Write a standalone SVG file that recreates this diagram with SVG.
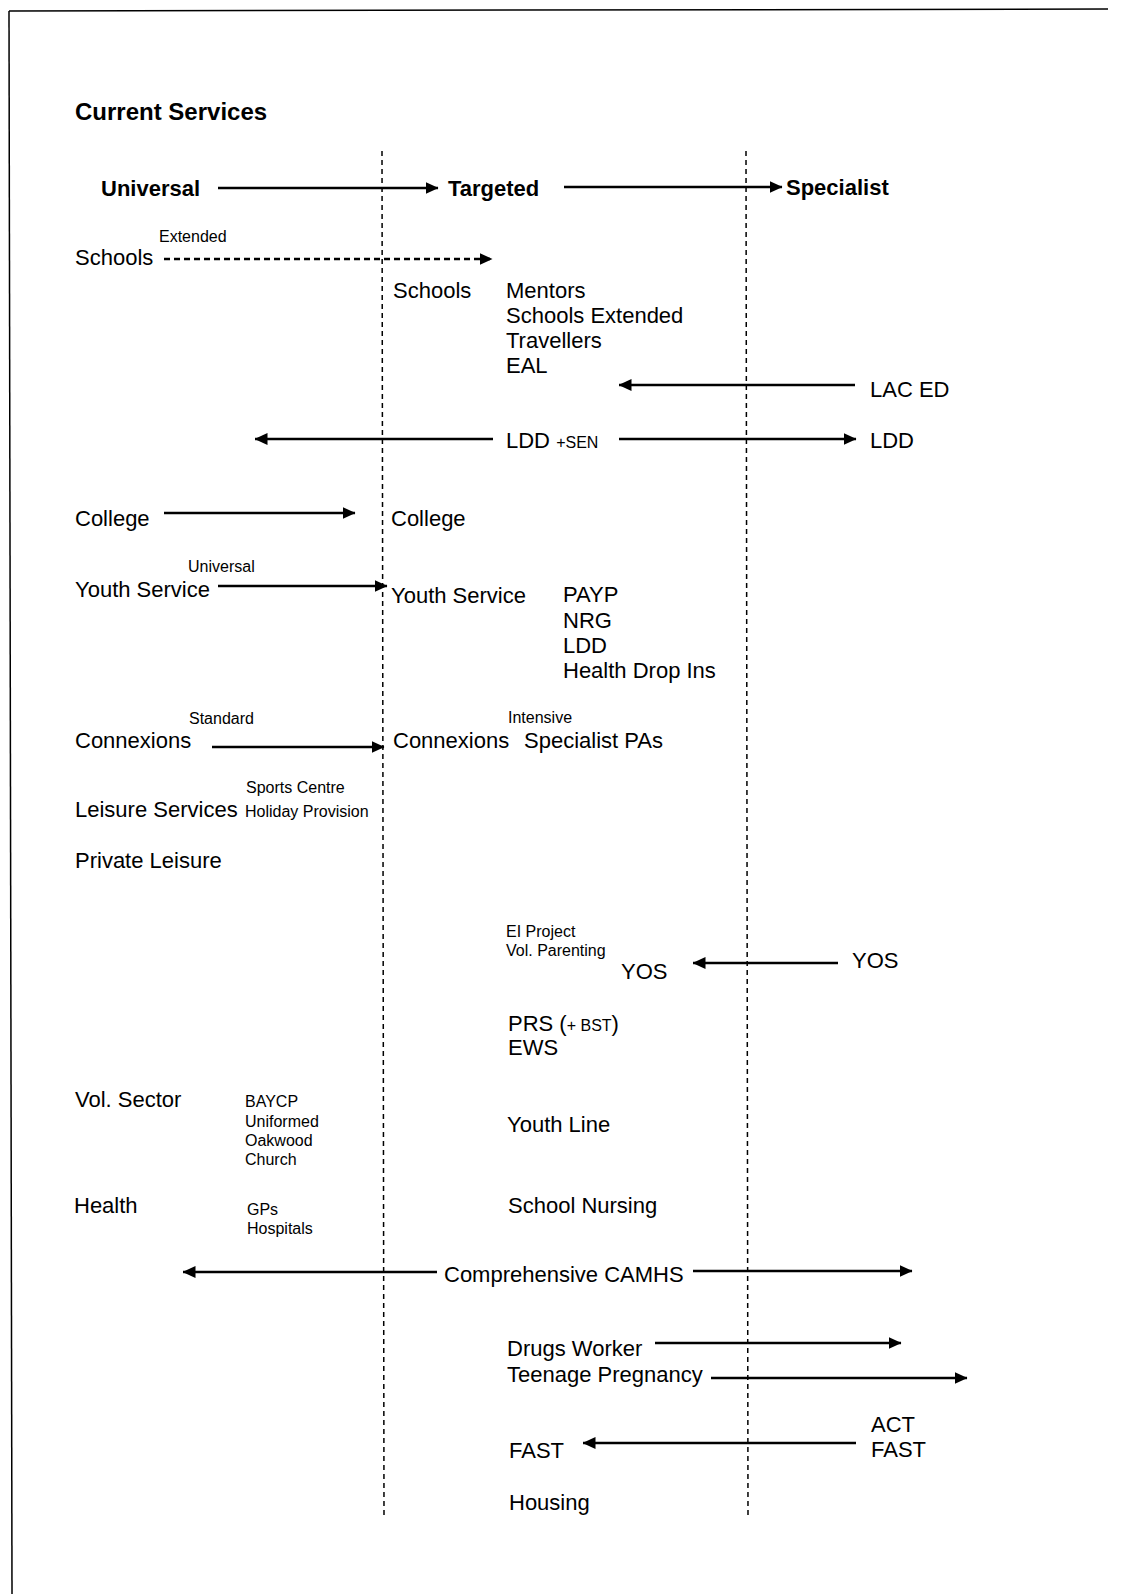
<svg xmlns="http://www.w3.org/2000/svg" width="1121" height="1594" viewBox="0 0 1121 1594">
<style>
text{font-family:"Liberation Sans",Arial,sans-serif;fill:#000}
.h{font-size:24px;font-weight:bold}
.b{font-size:22px;font-weight:bold}
.t{font-size:22px}
.s{font-size:16px}
.a{stroke:#000;stroke-width:2.3;fill:none}
.d{stroke:#000;stroke-width:1.5;stroke-dasharray:5 4;fill:none}
</style>
<defs>
<marker id="ah" viewBox="0 0 13 12" refX="12.5" refY="6" markerWidth="13" markerHeight="12" markerUnits="userSpaceOnUse" orient="auto">
<path d="M0,0 L13,6 L0,12 z" fill="#000"/>
</marker>
</defs>
<rect width="1121" height="1594" fill="#fff"/>
<g id="frame">
<line x1="9" y1="11" x2="1108" y2="9" stroke="#000" stroke-width="1.5"/>
<line x1="9" y1="11" x2="12" y2="1594" stroke="#000" stroke-width="1.5"/>
</g>
<g id="dividers">
<line class="d" x1="382" y1="151" x2="384" y2="1515"/>
<line class="d" x1="746" y1="151" x2="748" y2="1515"/>
</g>
<g id="connectors">
<line class="a" x1="218" y1="188" x2="438" y2="188" marker-end="url(#ah)"/>
<line class="a" x1="564" y1="187" x2="782" y2="187" marker-end="url(#ah)"/>
<line class="a" x1="164" y1="259" x2="492" y2="259" stroke-dasharray="6 4" marker-end="url(#ah)"/>
<line class="a" x1="855" y1="385" x2="619" y2="385" marker-end="url(#ah)"/>
<line class="a" x1="493" y1="439" x2="255" y2="439" marker-end="url(#ah)"/>
<line class="a" x1="619" y1="439" x2="856" y2="439" marker-end="url(#ah)"/>
<line class="a" x1="164" y1="513" x2="355" y2="513" marker-end="url(#ah)"/>
<line class="a" x1="218" y1="586" x2="387" y2="586" marker-end="url(#ah)"/>
<line class="a" x1="212" y1="747" x2="384" y2="747" marker-end="url(#ah)"/>
<line class="a" x1="838" y1="963" x2="693" y2="963" marker-end="url(#ah)"/>
<line class="a" x1="437" y1="1272" x2="183" y2="1272" marker-end="url(#ah)"/>
<line class="a" x1="693" y1="1271" x2="912" y2="1271" marker-end="url(#ah)"/>
<line class="a" x1="655" y1="1343" x2="901" y2="1343" marker-end="url(#ah)"/>
<line class="a" x1="711" y1="1378" x2="967" y2="1378" marker-end="url(#ah)"/>
<line class="a" x1="856" y1="1443" x2="583" y2="1443" marker-end="url(#ah)"/>
</g>
<g id="title"><text class="h" x="75" y="120">Current Services</text></g>
<g id="universal"><text class="b" x="101" y="196">Universal</text></g>
<g id="targeted"><text class="b" x="448" y="196">Targeted</text></g>
<g id="specialist"><text class="b" x="786" y="195">Specialist</text></g>
<g id="schools-u"><text class="s" x="159" y="242">Extended</text><text class="t" x="75" y="265">Schools</text></g>
<g id="schools-t"><text class="t" x="393" y="298">Schools</text></g>
<g id="schools-list"><text class="t" x="506" y="298">Mentors</text><text class="t" x="506" y="323">Schools Extended</text><text class="t" x="506" y="348">Travellers</text><text class="t" x="506" y="373">EAL</text></g>
<g id="lac-ed"><text class="t" x="870" y="397">LAC ED</text></g>
<g id="ldd-sen"><text class="t" x="506" y="448">LDD <tspan class="s">+SEN</tspan></text></g>
<g id="ldd-s"><text class="t" x="870" y="448">LDD</text></g>
<g id="college-u"><text class="t" x="75" y="526">College</text></g>
<g id="college-t"><text class="t" x="391" y="526">College</text></g>
<g id="youth-u"><text class="s" x="188" y="572">Universal</text><text class="t" x="75" y="597">Youth Service</text></g>
<g id="youth-t"><text class="t" x="391" y="603">Youth Service</text></g>
<g id="youth-list"><text class="t" x="563" y="602">PAYP</text><text class="t" x="563" y="628">NRG</text><text class="t" x="563" y="653">LDD</text><text class="t" x="563" y="678">Health Drop Ins</text></g>
<g id="connexions-u"><text class="s" x="189" y="724">Standard</text><text class="t" x="75" y="748">Connexions</text></g>
<g id="connexions-t"><text class="s" x="508" y="723">Intensive</text><text class="t" x="393" y="748">Connexions</text><text class="t" x="524" y="748">Specialist PAs</text></g>
<g id="leisure"><text class="s" x="246" y="793">Sports Centre</text><text class="t" x="75" y="817">Leisure Services</text><text class="s" x="245" y="817">Holiday Provision</text></g>
<g id="private-leisure"><text class="t" x="75" y="868">Private Leisure</text></g>
<g id="yos-t"><text class="s" x="506" y="937">EI Project</text><text class="s" x="506" y="956">Vol. Parenting</text><text class="t" x="621" y="979">YOS</text></g>
<g id="yos-s"><text class="t" x="852" y="968">YOS</text></g>
<g id="prs"><text class="t" x="508" y="1031">PRS (<tspan class="s">+ BST</tspan>)</text><text class="t" x="508" y="1055">EWS</text></g>
<g id="vol-sector"><text class="t" x="75" y="1107">Vol. Sector</text><text class="s" x="245" y="1107">BAYCP</text><text class="s" x="245" y="1127">Uniformed</text><text class="s" x="245" y="1146">Oakwood</text><text class="s" x="245" y="1165">Church</text></g>
<g id="youth-line"><text class="t" x="507" y="1132">Youth Line</text></g>
<g id="health"><text class="t" x="74" y="1213">Health</text><text class="s" x="247" y="1215">GPs</text><text class="s" x="247" y="1234">Hospitals</text></g>
<g id="school-nursing"><text class="t" x="508" y="1213">School Nursing</text></g>
<g id="camhs"><text class="t" x="444" y="1282">Comprehensive CAMHS</text></g>
<g id="drugs"><text class="t" x="507" y="1356">Drugs Worker</text><text class="t" x="507" y="1382">Teenage Pregnancy</text></g>
<g id="act-fast"><text class="t" x="871" y="1432">ACT</text><text class="t" x="871" y="1457">FAST</text></g>
<g id="fast"><text class="t" x="509" y="1458">FAST</text></g>
<g id="housing"><text class="t" x="509" y="1510">Housing</text></g>
</svg>
